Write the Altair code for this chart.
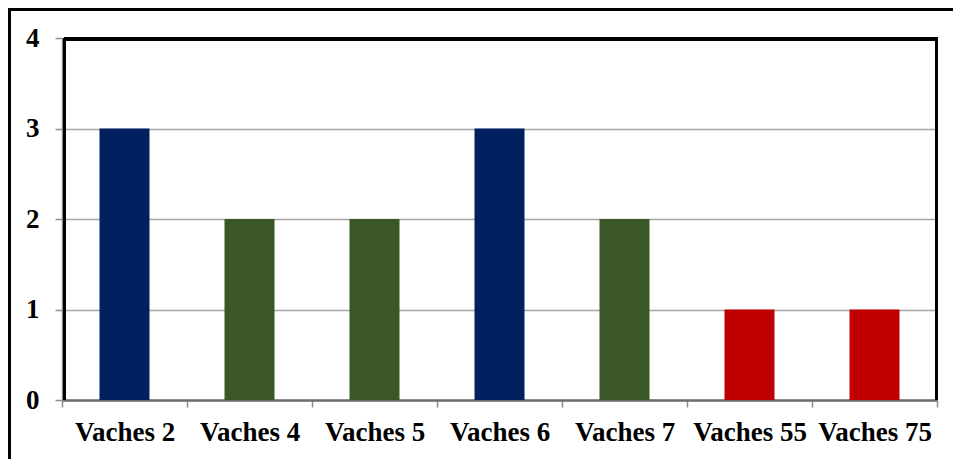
import altair as alt
import pandas as pd

categories = ["Vaches 2", "Vaches 4", "Vaches 5", "Vaches 6", "Vaches 7", "Vaches 55", "Vaches 75"]
values = [3, 2, 2, 3, 2, 1, 1]
groups = ["a", "b", "b", "a", "b", "c", "c"]
group_colors = ["#002060", "#3B5627", "#C00000"]

df = pd.DataFrame({"cat": categories, "val": values, "grp": groups})

W, H = 875, 362
FONT = "Times New Roman, Liberation Serif, serif"

bars = alt.Chart(df).mark_bar(size=50).encode(
    x=alt.X("cat:N", sort=categories, title=None,
            scale=alt.Scale(paddingInner=0, paddingOuter=0),
            axis=alt.Axis(labelAngle=0, tickBand="extent", labelFont=FONT, labelFontSize=27,
                          labelFontWeight="bold", labelColor="black", labelPadding=12,
                          tickSize=7, tickColor="#8C8C8C", tickWidth=1.5,
                          domainColor="#6E6E6E", domainWidth=2.5, grid=False)),
    y=alt.Y("val:Q", title=None,
            scale=alt.Scale(domain=[0, 4], nice=False),
            axis=alt.Axis(values=[0, 1, 2, 3, 4], format="d", labelFont=FONT, labelFontSize=27,
                          labelFontWeight="bold", labelColor="black", labelPadding=16,
                          tickSize=7, tickColor="#8C8C8C", tickWidth=1.5,
                          domainColor="#8C8C8C", domainWidth=1.5,
                          grid=True, gridColor="#A6A6A6", gridWidth=1.5)),
    color=alt.Color("grp:N", scale=alt.Scale(domain=["a", "b", "c"], range=group_colors), legend=None),
)

# plot-area frame: top, left and right edges
frame_top = alt.Chart(df).mark_rule(color="black", strokeWidth=3, clip=False).encode(
    x=alt.value(2), x2=alt.value(W + 1), y=alt.value(1))
frame_left = alt.Chart(df).mark_rule(color="black", strokeWidth=3, clip=False).encode(
    x=alt.value(2.5), y=alt.value(0), y2=alt.value(H))
frame_right = alt.Chart(df).mark_rule(color="black", strokeWidth=3, clip=False).encode(
    x=alt.value(W - 0.5), y=alt.value(0), y2=alt.value(H))

# outer chart border (left and top only visible)
outer_top = alt.Chart(df).mark_rule(color="black", strokeWidth=3, clip=False).encode(
    x=alt.value(-54), x2=alt.value(W + 40), y=alt.value(-28.5))
outer_left = alt.Chart(df).mark_rule(color="black", strokeWidth=3, clip=False).encode(
    x=alt.value(-52.5), y=alt.value(-30), y2=alt.value(H + 80))

chart = alt.layer(bars, frame_top, frame_left, frame_right, outer_top, outer_left).properties(
    width=W, height=H,
    autosize=alt.AutoSizeParams(type="none"),
    padding={"left": 62, "top": 38, "right": 16, "bottom": 59},
    background="white",
).configure_view(stroke=None)

chart.save("out.html", embed_options={"renderer": "svg", "actions": False})
